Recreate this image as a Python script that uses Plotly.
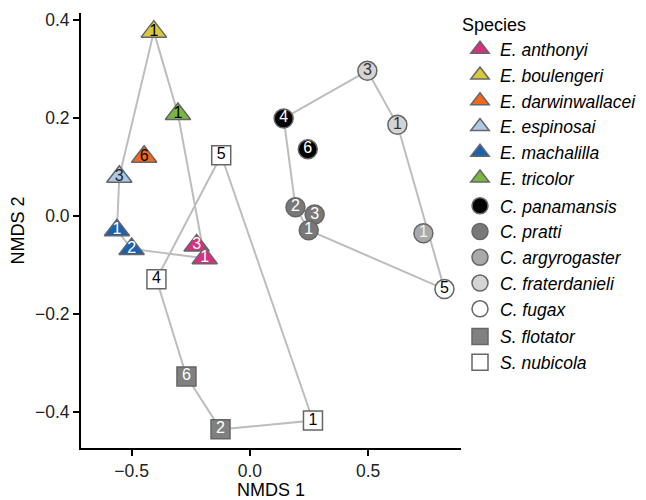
import plotly.graph_objects as go

# ---- data ----
species = ["E. anthonyi", "E. boulengeri", "E. darwinwallacei", "E. espinosai",
           "E. machalilla", "E. tricolor",
           "C. panamansis", "C. pratti", "C. argyrogaster", "C. fraterdanieli", "C. fugax",
           "S. flotator", "S. nubicola"]
genus = ["E"] * 6 + ["C"] * 5 + ["S"] * 2

pt_species = ["E. boulengeri", "E. tricolor", "E. darwinwallacei", "E. espinosai",
              "E. machalilla", "E. machalilla", "E. anthonyi", "E. anthonyi",
              "S. nubicola", "S. nubicola", "S. flotator", "S. flotator", "S. nubicola",
              "C. panamansis", "C. panamansis", "C. pratti", "C. pratti", "C. pratti",
              "C. argyrogaster", "C. fraterdanieli", "C. fraterdanieli", "C. fugax"]
pt_label = ["1", "1", "6", "3", "1", "2", "3", "1",
            "5", "4", "6", "2", "1",
            "4", "6", "2", "3", "1", "1", "1", "3", "5"]
nmds1 = [-0.406, -0.304, -0.447, -0.552, -0.562, -0.500, -0.225, -0.191,
         -0.121, -0.395, -0.268, -0.124, 0.267,
         0.143, 0.245, 0.193, 0.274, 0.249, 0.734, 0.624, 0.497, 0.823]
nmds2 = [0.376, 0.208, 0.121, 0.080, -0.029, -0.067, -0.060, -0.086,
         0.124, -0.129, -0.327, -0.435, -0.417,
         0.199, 0.136, 0.018, 0.003, -0.029, -0.035, 0.186, 0.296, -0.149]

fill = {"E. anthonyi": "#D6317E", "E. boulengeri": "#D9C93A", "E. darwinwallacei": "#F2691D",
        "E. espinosai": "#B0C8E8", "E. machalilla": "#1C61AD", "E. tricolor": "#78B83E",
        "C. panamansis": "#000000", "C. pratti": "#787878", "C. argyrogaster": "#A9A9A9",
        "C. fraterdanieli": "#D4D4D4", "C. fugax": "#FFFFFF",
        "S. flotator": "#808080", "S. nubicola": "#FFFFFF"}
txtcol = {"E. anthonyi": "white", "E. boulengeri": "black", "E. darwinwallacei": "black",
          "E. espinosai": "#222222", "E. machalilla": "white", "E. tricolor": "black",
          "C. panamansis": "white", "C. pratti": "white", "C. argyrogaster": "#F0F0F0",
          "C. fraterdanieli": "#333333", "C. fugax": "black",
          "S. flotator": "white", "S. nubicola": "black"}
symbol_of = {"E": "triangle-up", "C": "circle", "S": "square"}
size_of = {"E": 22, "C": 19, "S": 19}


def hull(pts):
    pts = sorted(set(pts))
    if len(pts) < 3:
        return pts

    def cross(o, a, b):
        return (a[0] - o[0]) * (b[1] - o[1]) - (a[1] - o[1]) * (b[0] - o[0])
    lower, upper = [], []
    for p in pts:
        while len(lower) >= 2 and cross(lower[-2], lower[-1], p) <= 0:
            lower.pop()
        lower.append(p)
    for p in reversed(pts):
        while len(upper) >= 2 and cross(upper[-2], upper[-1], p) <= 0:
            upper.pop()
        upper.append(p)
    return lower[:-1] + upper[:-1]


fig = go.Figure()

gen_of = dict(zip(species, genus))
for g in ["E", "C", "S"]:
    pts = [(x, y) for x, y, s in zip(nmds1, nmds2, pt_species) if gen_of[s] == g]
    h = hull(pts)
    h = h + [h[0]]
    fig.add_trace(go.Scatter(x=[p[0] for p in h], y=[p[1] for p in h], mode="lines",
                             line=dict(color="#BDBDBD", width=2), showlegend=False,
                             hoverinfo="skip"))

for s, g in zip(species, genus):
    idx = [i for i, ps in enumerate(pt_species) if ps == s]
    fig.add_trace(go.Scatter(
        x=[nmds1[i] for i in idx], y=[nmds2[i] for i in idx],
        text=[pt_label[i] for i in idx],
        mode="markers+text", textposition="middle center",
        textfont=dict(size=16, color=txtcol[s], family="Liberation Sans, Arial, sans-serif"),
        marker=dict(symbol=symbol_of[g], size=size_of[g], color=fill[s],
                    line=dict(color="#666666", width=1.5)),
        name="<i>" + s + "</i>", legendgroup=g, cliponaxis=False))

# the page adds an 8 px body margin, so the figure is 8 px smaller than the window
W, H = 638, 492
fig.update_layout(
    width=W, height=H,
    margin=dict(l=0, r=0, t=0, b=0, autoexpand=False),
    paper_bgcolor="white", plot_bgcolor="white",
    font=dict(family="Liberation Sans, Arial, sans-serif", size=17, color="black"),
    legend=dict(title=dict(text="Species", font=dict(size=18)), x=452 / W, xanchor="left",
                y=1.0, yanchor="top", traceorder="grouped", tracegroupgap=2,
                font=dict(size=17.5), bgcolor="rgba(0,0,0,0)"),
    showlegend=True,
)
fig.update_xaxes(range=[-0.714, 0.893], domain=[73 / W, 453 / W], tickvals=[-0.5, 0, 0.5],
                 ticktext=["\u22120.5", "0.0", "0.5"], automargin=False,
                 showline=True, linecolor="black", linewidth=2, ticks="outside",
                 ticklen=6, tickwidth=2, tickcolor="black", showgrid=False, zeroline=False,
                 title=dict(text="NMDS 1", font=dict(size=18), standoff=9),
                 tickfont=dict(size=17.5, color="#222222"))
fig.update_yaxes(range=[-0.473, 0.414], domain=[1 - 440 / H, 1 - 5 / H],
                 tickvals=[-0.4, -0.2, 0, 0.2, 0.4],
                 ticktext=["\u22120.4", "\u22120.2", "0.0", "0.2", "0.4"], automargin=False,
                 showline=True, linecolor="black", linewidth=2, ticks="outside",
                 ticklen=6, tickwidth=2, tickcolor="black", showgrid=False, zeroline=False,
                 title=dict(text="NMDS 2", font=dict(size=18), standoff=9),
                 tickfont=dict(size=17.5, color="#222222"))

fig.write_html("out.html")
